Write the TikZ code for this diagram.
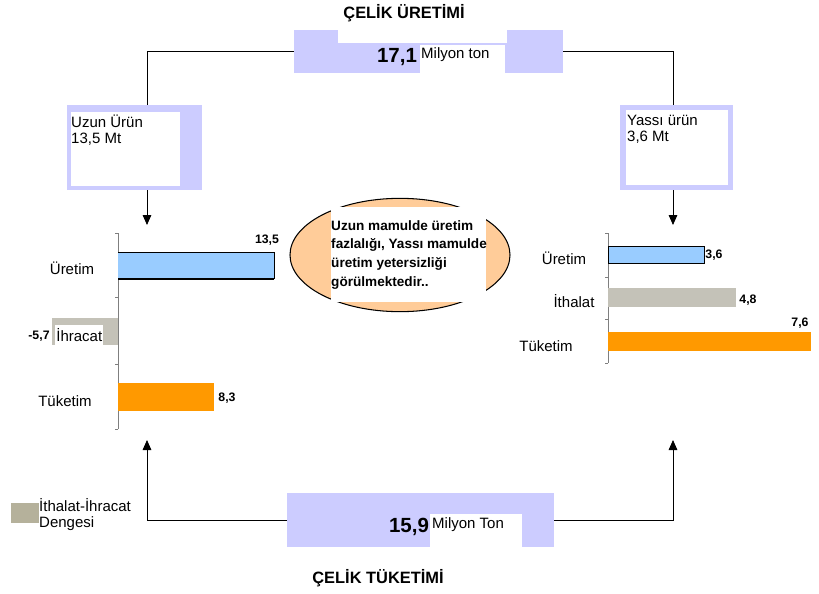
\documentclass[tikz,border=0pt]{standalone}
\usepackage{fontspec}
\setmainfont{Liberation Sans}
\usetikzlibrary{arrows.meta,positioning,calc,fit,shapes.geometric}
\definecolor{lavender}{HTML}{CCCCFF}
\definecolor{barblue}{HTML}{99CCFF}
\definecolor{barorange}{HTML}{FF9900}
\definecolor{peach}{HTML}{FFCC99}
\definecolor{balgray}{HTML}{B5B19B}
\definecolor{impgray}{HTML}{C4C2B8}
\definecolor{axisgray}{HTML}{7F7F7F}

\tikzset{
  lbl/.style={font=\fontsize{12.8}{13.7}\selectfont, inner sep=0pt},
  val/.style={font=\bfseries\fontsize{10.5}{12}\selectfont, inner sep=0pt},
  head/.style={font=\bfseries\fontsize{14}{16}\selectfont, inner sep=0pt},
  big/.style={font=\bfseries\fontsize{17.5}{19}\selectfont, inner sep=0pt},
  panel/.style={fill=lavender, inner sep=0pt},
  flow/.style={line width=0.7pt},
  tip/.style={-{Triangle[width=2.6mm,length=3mm]}},
  axis/.style={axisgray, line width=0.6pt},
}

\begin{document}
\begin{tikzpicture}[x=0.3mm,y=-0.3mm]
  \useasboundingbox (0,0) rectangle (819,594);

  % Top: steel production
  \node[head] (uretT) at (404,13) {ÇELİK ÜRETİMİ};
  \node[panel, fit={(294,30) (563,73)}] (uretbox) {};
  \fill[white] (338,30) rectangle (507,43);
  \fill[white] (420,45) rectangle (505,73);
  \node[big] (uretN) at (397,57) {17,1};
  \node[lbl, anchor=west] (uretU) at (421,55) {Milyon ton};

  % Left and right product boxes
  \node[panel, fit={(67,105) (202,190)}] (uzun) {};
  \fill[white] (71,112) rectangle (180,186);
  \node[lbl, anchor=north west, align=left] (uzunT) at (71,115) {Uzun Ürün\\13,5 Mt};
  \node[panel, fit={(620,105) (733,190)}] (yassi) {};
  \fill[white] (626,110) rectangle (728,185);
  \node[lbl, anchor=north west, align=left] (yassiT) at (627,115) {Yassı ürün\\3,6 Mt};

  % Arrow end points
  \coordinate (ltop) at (147,225);
  \coordinate (rtop) at (673,225);
  \coordinate (lbot) at (147,440);
  \coordinate (rbot) at (673,440);

  % Connectors
  \draw[flow] (uretbox.west) -| (uzun.north -| ltop);
  \draw[flow] (uretbox.east) -| (yassi.north -| rtop);
  \draw[flow,tip] (uzun.south -| ltop) -- (ltop);
  \draw[flow,tip] (yassi.south -| rtop) -- (rtop);

  % Left chart: long products
  \draw[axis] (118,233) -- (118,429);
  \foreach \y in {233,297,364,429}
    \draw[axis] (118,\y) -- (115,\y);
  \fill[barblue] (118,252) rectangle (274,279);
  \draw[line width=0.5pt] (118,252) -- (274,252) -- (274,279);
  \draw[line width=1.1pt] (118,279) -- (274,279);
  \node[val] (lUv) at (267,240) {13,5};
  \node[lbl] (lU) at (72,268) {Üretim};
  \fill[impgray] (52,318) rectangle (118,345);
  \node[lbl, fill=white, anchor=west, minimum height=6.3mm, inner xsep=1pt] (lI) at (55,335) {İhracat};
  \node[val] (lIv) at (39,336) {-5,7};
  \fill[barorange] (118,383) rectangle (214,411);
  \node[val] (lTv) at (227,398) {8,3};
  \node[lbl] (lT) at (65,401) {Tüketim};

  % Right chart: flat products
  \draw[axis] (608,233) -- (608,363);
  \foreach \y in {233,277,319,363}
    \draw[axis] (608,\y) -- (605,\y);
  \filldraw[fill=barblue, draw=black, line width=0.6pt] (608,246) rectangle (704,263);
  \node[val] (rUv) at (714,255) {3,6};
  \node[lbl] (rU) at (564,258) {Üretim};
  \fill[impgray] (608,288) rectangle (736,307);
  \node[val] (rIv) at (748,300) {4,8};
  \node[lbl] (rI) at (574,301) {İthalat};
  \fill[barorange] (608,332) rectangle (811,351);
  \node[val] (rTv) at (800,323) {7,6};
  \node[lbl] (rT) at (546,346) {Tüketim};

  % Center: comment
  \node[ellipse, draw, fill=peach, line width=0.9pt, minimum width=66mm, minimum height=34mm, inner sep=0pt] (note) at (400,255) {};
  \fill[white] (331,207) rectangle (486,302);
  \node[font=\bfseries\fontsize{11.6}{16}\selectfont, align=left, anchor=north west, inner sep=0pt] (noteT) at (331,220)
    {Uzun mamulde üretim\\fazlalığı, Yassı mamulde\\üretim yetersizliği\\görülmektedir..};

  % Bottom: steel consumption
  \node[panel, fit={(287,493) (554,547)}] (tukbox) {};
  \fill[white] (430,514) rectangle (522,547);
  \node[big] (tukN) at (409,527) {15,9};
  \node[lbl, anchor=west] (tukU) at (432,525) {Milyon Ton};
  \node[head] (tukT) at (378,578) {ÇELİK TÜKETİMİ};
  \draw[flow,tip] (tukbox.west) -| (lbot);
  \draw[flow,tip] (tukbox.east) -| (rbot);

  % Legend
  \node[fill=balgray, inner sep=0pt, fit={(11,503) (39,523)}] (legsq) {};
  \node[lbl, anchor=north west, align=left] (legT) at (39,498) {İthalat-İhracat\\Dengesi};
\end{tikzpicture}
\end{document}
